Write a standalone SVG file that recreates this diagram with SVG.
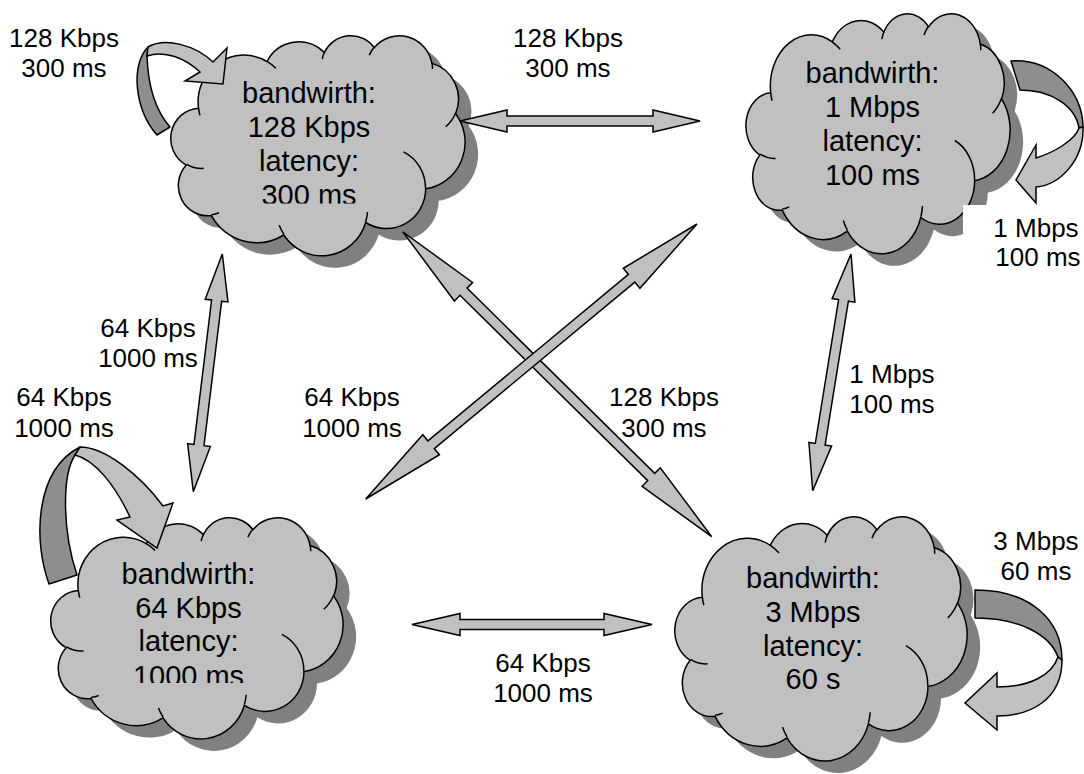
<svg xmlns="http://www.w3.org/2000/svg" width="1084" height="774" viewBox="0 0 1084 774">
<defs>
<style>
.sh{fill:#808080;stroke:none}
.cl{fill:#c0c0c0;stroke:#000;stroke-width:1.5}
.cr{fill:none;stroke:#000;stroke-width:1.5}
.ar{fill:#c0c0c0;stroke:#000;stroke-width:1.5;stroke-linejoin:miter}
.dk{fill:#8e8e8e;stroke:#000;stroke-width:1.5;stroke-linejoin:round}
.nt{font-family:"Liberation Sans",Arial,sans-serif;font-size:29px;text-anchor:middle;fill:#000}
.lb{font-family:"Liberation Sans",Arial,sans-serif;font-size:26px;text-anchor:middle;fill:#000}
</style>
<path id="cTL" d="M198.5 108.2A45.80 46.79 0 0 1 267.0 61.5A36.16 37.00 0 0 1 324.3 52.5A29.59 30.27 0 0 1 374.4 47.6A32.93 33.59 0 0 1 431.9 63.4A36.16 37.05 0 0 1 455.6 113.7A45.94 46.95 0 0 1 425.7 188.8A39.23 40.06 0 0 1 365.7 222.5A45.80 46.93 0 0 1 283.8 235.0A52.36 53.70 0 0 1 211.4 215.6A29.56 30.14 0 0 1 186.3 165.1A29.48 30.27 0 0 1 198.5 108.2Z"/>
<path id="cTR" d="M770.7 92.8A41.11 51.05 0 0 1 832.3 41.9A32.45 40.37 0 0 1 883.7 32.1A26.56 33.02 0 0 1 928.6 26.8A29.56 36.65 0 0 1 980.3 44.0A32.45 40.42 0 0 1 1001.6 98.9A41.24 51.22 0 0 1 974.7 180.8A35.22 43.70 0 0 1 920.8 217.5A41.11 51.19 0 0 1 847.3 231.1A47.00 58.58 0 0 1 782.3 210.1A26.54 32.88 0 0 1 759.9 154.9A26.46 33.02 0 0 1 770.7 92.8Z"/>
<path id="cBL" d="M78.3 590.5A45.48 47.01 0 0 1 146.3 543.6A35.91 37.17 0 0 1 203.3 534.6A29.39 30.41 0 0 1 253.0 529.7A32.71 33.75 0 0 1 310.1 545.5A35.91 37.22 0 0 1 333.7 596.1A45.63 47.16 0 0 1 304.0 671.5A38.96 40.24 0 0 1 244.4 705.3A45.48 47.14 0 0 1 163.0 717.9A52.00 53.95 0 0 1 91.1 698.5A29.36 30.28 0 0 1 66.2 647.7A29.27 30.41 0 0 1 78.3 590.5Z"/>
<path id="cBR" d="M702.3 597.2A45.48 51.90 0 0 1 770.3 545.4A35.91 41.04 0 0 1 827.3 535.4A29.39 33.57 0 0 1 877.0 530.0A32.71 37.26 0 0 1 934.1 547.5A35.91 41.09 0 0 1 957.7 603.3A45.63 52.07 0 0 1 928.0 686.6A38.96 44.43 0 0 1 868.4 723.9A45.48 52.05 0 0 1 787.0 737.8A52.00 59.56 0 0 1 715.1 716.3A29.36 33.43 0 0 1 690.2 660.3A29.27 33.57 0 0 1 702.3 597.2Z"/>
<clipPath id="clipTL"><rect x="150" y="0" width="340" height="203.5"/></clipPath>
<clipPath id="clipBL"><rect x="30" y="500" width="340" height="183"/></clipPath>
</defs>
<rect width="1084" height="774" fill="#fff"/>

<g id="node-128k">
<use href="#cTL" class="sh" transform="translate(13,12)"/>
<use href="#cTL" class="cl"/>
<path class="cr" d="M203.8 168.3A29.48 30.27 0 0 1 186.7 164.3M219.0 212.7A29.56 30.14 0 0 1 211.5 214.7M283.8 234.1A45.80 46.93 0 0 1 279.2 225.2M367.5 212.0A45.80 46.93 0 0 1 365.7 221.7M403.5 151.9A39.23 40.06 0 0 1 425.5 188.2M455.5 113.2A36.16 37.05 0 0 1 445.7 126.8M431.9 62.6A32.93 33.59 0 0 1 432.5 69.1M369.2 55.1A32.93 33.59 0 0 1 374.3 46.9M322.2 59.0A29.59 30.27 0 0 1 324.6 52.0M267.0 61.4A45.80 46.79 0 0 1 275.8 68.3M200.0 115.4A45.80 46.79 0 0 1 198.5 108.2"/>
<g clip-path="url(#clipTL)">
<text class="nt" x="309" y="103">bandwirth:</text>
<text class="nt" x="309" y="137">128 Kbps</text>
<text class="nt" x="309" y="171">latency:</text>
<text class="nt" x="309" y="205">300 ms</text>
</g>
</g>

<g id="node-1m">
<use href="#cTR" class="sh" transform="translate(13,12)"/>
<use href="#cTR" class="cl"/>
<path class="cr" d="M775.6 158.4A26.46 33.02 0 0 1 760.2 154.0M789.2 206.9A26.54 32.88 0 0 1 782.4 209.0M847.3 230.2A41.11 51.19 0 0 1 843.3 220.5M922.5 206.1A41.11 51.19 0 0 1 920.9 216.7M954.8 140.5A35.22 43.70 0 0 1 974.6 180.2M1001.5 98.3A32.45 40.42 0 0 1 992.6 113.2M980.3 43.1A29.56 36.65 0 0 1 980.8 50.2M924.0 35.0A29.56 36.65 0 0 1 928.6 26.0M881.8 39.2A26.56 33.02 0 0 1 884.1 31.5M832.2 41.8A41.11 51.05 0 0 1 840.2 49.3M772.1 100.7A41.11 51.05 0 0 1 770.7 92.8"/>
<text class="nt" x="872.5" y="83">bandwirth:</text>
<text class="nt" x="872.5" y="117">1 Mbps</text>
<text class="nt" x="872.5" y="150.5">latency:</text>
<text class="nt" x="872.5" y="184.5">100 ms</text>
</g>

<g id="node-64k">
<use href="#cBL" class="sh" transform="translate(13,12)"/>
<use href="#cBL" class="cl"/>
<path class="cr" d="M83.6 650.9A29.27 30.41 0 0 1 66.6 646.8M98.7 695.5A29.36 30.28 0 0 1 91.2 697.5M163.0 717.0A45.48 47.14 0 0 1 158.5 708.1M246.2 694.8A45.48 47.14 0 0 1 244.4 704.5M281.9 634.4A38.96 40.24 0 0 1 303.8 670.9M333.5 595.5A35.91 37.22 0 0 1 323.8 609.3M310.2 544.8A32.71 33.75 0 0 1 310.7 551.2M247.9 537.2A32.71 33.75 0 0 1 252.9 529.0M201.1 541.2A29.39 30.41 0 0 1 203.6 534.0M146.3 543.6A45.48 47.01 0 0 1 155.1 550.5M79.8 597.8A45.48 47.01 0 0 1 78.3 590.5"/>
<g clip-path="url(#clipBL)">
<text class="nt" x="188.5" y="584">bandwirth:</text>
<text class="nt" x="188.5" y="617.5">64 Kbps</text>
<text class="nt" x="188.5" y="651">latency:</text>
<text class="nt" x="188.5" y="685.5">1000 ms</text>
</g>
</g>

<g id="node-3m">
<use href="#cBR" class="sh" transform="translate(13,12)"/>
<use href="#cBR" class="cl"/>
<path class="cr" d="M707.6 663.8A29.27 33.57 0 0 1 690.6 659.4M722.7 713.1A29.36 33.43 0 0 1 715.2 715.3M787.0 736.8A45.48 52.05 0 0 1 782.5 726.9M870.2 712.3A45.48 52.05 0 0 1 868.4 723.1M905.9 645.6A38.96 44.43 0 0 1 927.8 686.0M957.5 602.7A35.91 41.09 0 0 1 947.8 617.9M934.2 546.6A32.71 37.26 0 0 1 934.7 553.8M871.9 538.3A32.71 37.26 0 0 1 876.9 529.2M825.1 542.7A29.39 33.57 0 0 1 827.6 534.8M770.3 545.3A45.48 51.90 0 0 1 779.1 552.9M703.8 605.2A45.48 51.90 0 0 1 702.3 597.2"/>
<text class="nt" x="813" y="588">bandwirth:</text>
<text class="nt" x="813" y="622">3 Mbps</text>
<text class="nt" x="813" y="655.5">latency:</text>
<text class="nt" x="813" y="689">60 s</text>
</g>

<g id="connectors">
<path class="ar" d="M460 121L507 110L507 116L653 116L653 110L700 121L653 132L653 126L507 126L507 132Z"/>
<path class="ar" d="M412 624.5L460 613.5L460 619.5L604 619.5L604 613.5L652 624.5L604 635.5L604 629.5L460 629.5L460 635.5Z"/>
<path class="ar" d="M222.3 254L205.2 299.3L211.6 300.0L194.0 444.4L187.6 443.7L193.3 491.7L210.4 446.4L204.0 445.7L221.6 301.3L228.0 302.0Z"/>
<path class="ar" d="M851 254L832.1 298.6L838.6 299.6L815.3 443.5L808.9 442.5L812.7 490.7L831.6 446.1L825.1 445.1L848.4 301.2L854.9 302.2Z"/>
<path class="ar" d="M403 232L454.4 301.0L460.0 295.3L647.7 480.6L642.1 486.3L711.7 536.7L660.3 467.8L654.7 473.4L467.0 288.1L472.6 282.5Z"/>
<path class="ar" d="M697 224L623.3 268.3L628.4 274.4L427.9 440.9L422.8 434.7L365.7 499L439.4 454.7L434.3 448.6L634.8 282.1L639.9 288.3Z"/>
<path class="dk" d="M157 135C135 110 130 65 148 47L147 56C148 85 155 110 170 127Z"/>
<path class="ar" d="M148 47C165 37 195 45 213 62L227 48L223 84L185 81L200 72C185 58 165 50 147 56Z"/>
<path class="dk" d="M49 584C33 540 35 470 80 447L75 455C62 475 62 530 77 575Z"/>
<path class="ar" d="M80 447C105 447 140 475 163 506L173 503L157 548L117 520L130 517C115 485 95 460 75 455Z"/>
<path class="dk" d="M1011 61C1050 58 1083 90 1083 127L1079 128C1075 105 1050 90 1020 90Z"/>
<path class="ar" d="M1083 127C1084 160 1060 185 1036 187L1036 203L1016 180L1036 145L1036 158C1055 152 1075 140 1079 128Z"/>
<path class="dk" d="M975 590C1030 590 1062 620 1062 660L1058 657C1050 635 1020 618 975 618Z"/>
<path class="ar" d="M1062 660C1062 700 1030 716 997 716L997 730L965 703L997 673L997 687C1030 687 1052 675 1058 657Z"/>
</g>

<g id="labels">
<text class="lb" x="64" y="47">128 Kbps</text>
<text class="lb" x="64" y="77">300 ms</text>
<text class="lb" x="568" y="47">128 Kbps</text>
<text class="lb" x="568" y="77">300 ms</text>
<rect x="963" y="205" width="121" height="70" fill="#fff"/>
<text class="lb" x="1036" y="237">1 Mbps</text>
<text class="lb" x="1038" y="266">100 ms</text>
<text class="lb" x="148" y="337">64 Kbps</text>
<text class="lb" x="148" y="367">1000 ms</text>
<text class="lb" x="64" y="406">64 Kbps</text>
<text class="lb" x="64" y="437">1000 ms</text>
<text class="lb" x="352" y="406">64 Kbps</text>
<text class="lb" x="352" y="437">1000 ms</text>
<text class="lb" x="664" y="406">128 Kbps</text>
<text class="lb" x="664" y="437">300 ms</text>
<text class="lb" x="892" y="383">1 Mbps</text>
<text class="lb" x="892" y="413">100 ms</text>
<text class="lb" x="1036" y="550">3 Mbps</text>
<text class="lb" x="1036" y="580">60 ms</text>
<text class="lb" x="543" y="672">64 Kbps</text>
<text class="lb" x="543" y="702">1000 ms</text>
</g>
</svg>
